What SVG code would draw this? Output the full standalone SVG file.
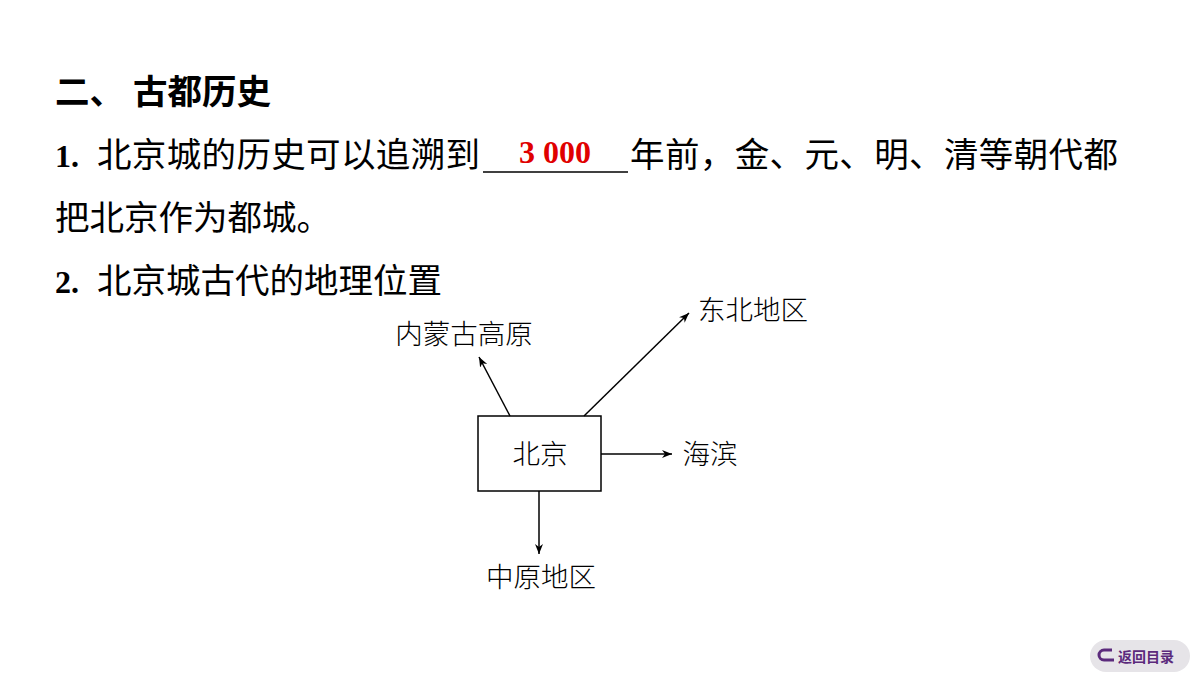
<svg xmlns="http://www.w3.org/2000/svg" width="1200" height="675" viewBox="0 0 1200 675">
<style>
.t{font-family:"Noto Sans CJK SC",sans-serif;font-size:34.5px;fill:#000}
.n{font-family:"Liberation Serif",serif;font-weight:bold;font-size:32px}
.d{font-family:"Noto Sans CJK SC",sans-serif;font-size:27.5px;fill:#000;font-weight:300}
.c{stroke:#000;stroke-width:1.5;fill:none;marker-end:url(#a)}
</style>
<defs><marker id="a" viewBox="0 0 10 10" refX="10" refY="5" markerWidth="10" markerHeight="10" markerUnits="userSpaceOnUse" orient="auto"><path d="M0,1 L10,5 L0,9 L3,5 Z" fill="#000"/></marker></defs>
<rect width="1200" height="675" fill="#fff"/>
<text class="t" x="55" y="104" font-weight="bold"><tspan>二、</tspan><tspan x="133">古都历史</tspan></text>
<text class="n" x="55" y="167">1.</text>
<text class="t" x="97" y="167" textLength="383">北京城的历史可以追溯到</text>
<line x1="483" y1="172" x2="628" y2="172" stroke="#000" stroke-width="1.5"/>
<text class="n" x="555" y="163" fill="#e00000" text-anchor="middle">3 000</text>
<text class="t" x="630" y="167" textLength="488">年前，金、元、明、清等朝代都</text>
<text class="t" x="55" y="230">把北京作为都城。</text>
<text class="n" x="55" y="293">2.</text>
<text class="t" x="97" y="293">北京城古代的地理位置</text>
<g id="beijing"><rect x="478" y="416" width="123" height="75" fill="#fff" stroke="#000" stroke-width="1.5"/><text class="d" x="540" y="464" text-anchor="middle">北京</text></g>
<g id="neimeng"><text class="d" x="464" y="344" text-anchor="middle">内蒙古高原</text></g>
<g id="dongbei"><text class="d" x="753" y="320" text-anchor="middle">东北地区</text></g>
<g id="haibin"><text class="d" x="710" y="464" text-anchor="middle">海滨</text></g>
<g id="zhongyuan"><text class="d" x="541" y="587" text-anchor="middle">中原地区</text></g>
<g id="connectors">
<line class="c" x1="510" y1="416" x2="479" y2="357"/>
<line class="c" x1="584" y1="416" x2="689" y2="313"/>
<line class="c" x1="601" y1="454" x2="672" y2="454"/>
<line class="c" x1="539" y1="491" x2="539" y2="554"/>
</g>
<g id="back"><rect x="1090" y="640" width="100" height="32" rx="16" fill="#e6e4e8"/>
<path d="M1112,650 h-8 a5,5 0 0 0 0,10 h10" fill="none" stroke="#5b2a7c" stroke-width="3"/>
<text x="1118" y="662" font-family="Noto Sans CJK SC,sans-serif" font-weight="bold" font-size="14" fill="#5b2a7c">返回目录</text></g>
</svg>
